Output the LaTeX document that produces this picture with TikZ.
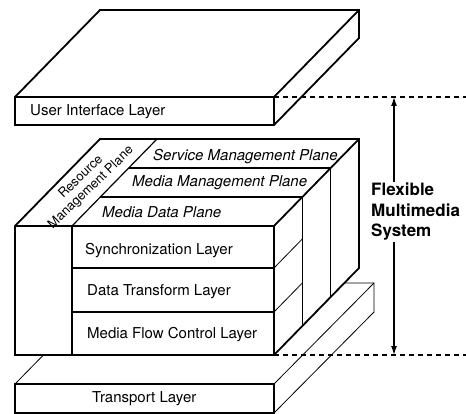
\documentclass[tikz,border=0pt]{standalone}
\usepackage{fontspec}
\setmainfont{TeX Gyre Heros}
\usetikzlibrary{arrows.meta}
\tikzset{
  bold/.style={line width=1.8pt, line join=miter},
  mid/.style={line width=1.2pt},
  thin/.style={line width=0.8pt},
  lbl/.style={anchor=west, inner sep=0pt, font=\fontsize{15}{18}\selectfont},
  plbl/.style={anchor=west, inner sep=0pt, font=\fontsize{15}{18}\selectfont\itshape},
  dashline/.style={line width=1.2pt, dash pattern=on 5pt off 4pt},
  dimarrow/.style={line width=1.2pt, {Latex[length=9pt,width=6pt]}-{Latex[length=9pt,width=6pt]}}
}
\begin{document}
\begin{tikzpicture}[x=1pt,y=-1pt]
\useasboundingbox (0,0) rectangle (466,414);
% Transport layer slab
\filldraw[thin, fill=white] (15,384) -- (114,283) -- (374,283) -- (374,312) -- (274,413) -- (15,413) -- cycle;
\draw[thin] (274,384) -- (374,283);
\draw[mid] (15,384) rectangle (274,413);
% Main block
\filldraw[bold, fill=white] (15,226) -- (100,139) -- (359,139) -- (359,268) -- (274,355) -- (15,355) -- cycle;
\draw[mid] (72,226) -- (157,139);
\draw[mid] (72,226) -- (72,355);
\draw[mid] (72,268) -- (274,268);
\draw[mid] (72,312) -- (274,312);
\draw[mid] (100.3,197) -- (302.3,197);
\draw[mid] (128.7,168) -- (330.7,168);
\draw[thin] (302.3,197) -- (302.3,326);
\draw[thin] (330.7,168) -- (330.7,297);
\draw[thin] (274,268) -- (302.3,239);
\draw[thin] (274,312) -- (302.3,283);
\draw[bold] (15,226) -- (274,226) -- (359,139);
\draw[bold] (274,226) -- (274,355);
% User interface slab
\filldraw[bold, fill=white] (15,97) -- (100,10) -- (359,10) -- (359,38) -- (274,125) -- (15,125) -- cycle;
\draw[bold] (15,97) -- (274,97) -- (359,10);
\draw[bold] (274,97) -- (274,125);
% Dashed extents
\coordinate (topR) at (466,97);
\coordinate (botR) at (466,355);
\coordinate (topA) at (394,97);
\coordinate (botA) at (394,355);
\coordinate (uiC) at (274,97);
\coordinate (mbC) at (274,355);
\draw[dashline] (uiC) -- (topR);
\draw[dashline] (mbC) -- (botR);
\draw[dimarrow] (topA) -- (botA);
\node[anchor=west, fill=white, inner sep=1pt, align=left, font=\fontsize{17}{20.5}\selectfont\bfseries] (fms) at (370,212) {Flexible\\Multimedia\\System};
% Labels
\node[lbl] (ui) at (30,112) {User Interface Layer};
\node[plbl] (smp) at (153,157) {Service Management Plane};
\node[plbl] (mmp) at (132,183) {Media Management Plane};
\node[plbl] (mdp) at (102,212) {Media Data Plane};
\node[lbl] (sync) at (85,251) {Synchronization Layer};
\node[lbl] (dtl) at (87,292) {Data Transform Layer};
\node[lbl] (mfc) at (87,335) {Media Flow Control Layer};
\node[lbl] (tl) at (92,399) {Transport Layer};
\node[rotate=44, align=center, inner sep=0pt, font=\fontsize{13}{14.5}\selectfont] (rmp) at (86,182.5) {Resource\\Management Plane};
\end{tikzpicture}
\end{document}
